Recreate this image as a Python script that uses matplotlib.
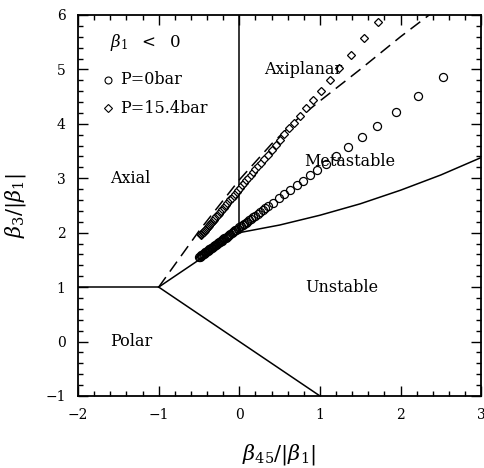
import numpy as np
import matplotlib
matplotlib.use("Agg")
import matplotlib.pyplot as plt
from matplotlib.ticker import MultipleLocator

plt.rcParams['font.family'] = ['DejaVu Serif']
plt.rcParams['mathtext.fontset'] = 'dejavuserif'

# phase boundaries
axial_polar_x = [-2, -1]
axial_polar_y = [1, 1]
polar_unstable_x = [-1, 1]
polar_unstable_y = [1, -1]
axial_meta_x = [-1, 0]
axial_meta_y = [1, 2]
axial_axiplanar_x = [0, 0]
axial_axiplanar_y = [2, 6]
meta_unstable_x = [0, 0.5, 1.0, 1.5, 2.0, 2.5, 3.0]
meta_unstable_y = [2.0, 2.14, 2.32, 2.53, 2.78, 3.06, 3.38]
dashed_x = [-1, -0.5, 0, 0.4, 0.7, 1.0, 1.5, 2.0, 2.4]
dashed_y = [1, 2.03, 2.97, 3.63, 4.06, 4.42, 5.0, 5.6, 6.05]

# P = 0 bar
p0_x = [-0.50, -0.49, -0.48, -0.47, -0.46, -0.45, -0.44, -0.43, -0.42, -0.41,
        -0.40, -0.39, -0.38, -0.37, -0.36, -0.35, -0.34, -0.33, -0.32, -0.31,
        -0.30, -0.29, -0.28, -0.27, -0.26, -0.25, -0.24, -0.23, -0.22, -0.21,
        -0.20, -0.185, -0.17, -0.155, -0.14, -0.125, -0.11, -0.095, -0.08,
        -0.065, -0.05, -0.035, -0.02, 0.0, 0.02, 0.04, 0.06, 0.08, 0.10, 0.125,
        0.15, 0.175, 0.20, 0.23, 0.26, 0.29, 0.32, 0.36, 0.42, 0.49, 0.56,
        0.63, 0.71, 0.79, 0.88, 0.97, 1.07, 1.20, 1.35, 1.52, 1.71, 1.94,
        2.22, 2.53]
p0_y = [1.550, 1.561, 1.572, 1.583, 1.594, 1.605, 1.615, 1.626, 1.637, 1.648,
        1.659, 1.670, 1.681, 1.692, 1.703, 1.714, 1.724, 1.735, 1.746, 1.757,
        1.768, 1.779, 1.790, 1.801, 1.812, 1.823, 1.833, 1.844, 1.855, 1.866,
        1.877, 1.893, 1.910, 1.926, 1.942, 1.959, 1.975, 1.991, 2.008,
        2.024, 2.041, 2.057, 2.073, 2.095, 2.117, 2.139, 2.160, 2.182, 2.204,
        2.231, 2.259, 2.286, 2.313, 2.346, 2.378, 2.411, 2.444, 2.487, 2.553,
        2.629, 2.705, 2.782, 2.869, 2.956, 3.054, 3.152, 3.261, 3.403, 3.567,
        3.752, 3.959, 4.210, 4.515, 4.853]

# P = 15.4 bar
p15_x = [-0.48, -0.47, -0.46, -0.45, -0.44, -0.43, -0.42, -0.41, -0.40, -0.39,
         -0.38, -0.37, -0.36, -0.35, -0.34, -0.33, -0.32, -0.31, -0.30, -0.285,
         -0.27, -0.255, -0.24, -0.225, -0.21, -0.195, -0.18, -0.165, -0.15,
         -0.13, -0.11, -0.09, -0.07, -0.05, -0.03, -0.01, 0.01, 0.035, 0.06,
         0.085, 0.11, 0.14, 0.17, 0.20, 0.23, 0.27, 0.31, 0.35, 0.40, 0.45,
         0.50, 0.56, 0.62, 0.68, 0.75, 0.83, 0.91, 1.01, 1.12, 1.24, 1.38,
         1.55, 1.72]
p15_y = [1.950, 1.968, 1.985, 2.003, 2.021, 2.039, 2.057, 2.075, 2.093, 2.110,
         2.128, 2.146, 2.164, 2.182, 2.200, 2.218, 2.235, 2.253, 2.271, 2.298,
         2.325, 2.352, 2.378, 2.405, 2.432, 2.459, 2.486, 2.512, 2.539,
         2.575, 2.611, 2.646, 2.682, 2.718, 2.753, 2.789, 2.825, 2.870, 2.914,
         2.959, 3.003, 3.057, 3.111, 3.164, 3.218, 3.289, 3.361, 3.432, 3.521,
         3.611, 3.700, 3.807, 3.914, 4.021, 4.147, 4.289, 4.432, 4.611, 4.807,
         5.022, 5.271, 5.575, 5.879]

regions = ["Axial", "Polar", "Axiplanar", "Metastable", "Unstable"]
region_x = [-1.6, -1.6, 0.31, 0.8, 0.82]
region_y = [3.0, 0.0, 5.0, 3.3, 1.0]

fig = plt.figure(figsize=(4.85, 4.68), dpi=100)
ax = fig.add_axes([0.161, 0.154, 0.831, 0.814])

lw = 1.1
ax.plot(axial_polar_x, axial_polar_y, 'k-', lw=lw)
ax.plot(polar_unstable_x, polar_unstable_y, 'k-', lw=lw)
ax.plot(axial_meta_x, axial_meta_y, 'k-', lw=lw)
ax.plot(axial_axiplanar_x, axial_axiplanar_y, 'k-', lw=lw)
ax.plot(meta_unstable_x, meta_unstable_y, 'k-', lw=lw)
ax.plot(dashed_x, dashed_y, 'k-', lw=lw, dashes=(8, 4.5))

ax.plot(p0_x, p0_y, 'o', ls='none', ms=5.8, mfc='none', mec='k', mew=0.9)
ax.plot(p15_x, p15_y, 'D', ls='none', ms=4.2, mfc='white', mec='k', mew=0.9)

for name, rx, ry in zip(regions, region_x, region_y):
    ax.text(rx, ry, name, fontsize=11.5, va='center', ha='left')

# legend block
ax.text(-1.6, 5.5, r'$\beta_1\ \ <\ \ 0$', fontsize=12, va='center', ha='left')
ax.plot([-1.63], [4.81], 'o', ms=5, mfc='none', mec='k', mew=0.8)
ax.text(-1.48, 4.81, 'P=0bar', fontsize=11.5, va='center', ha='left')
ax.plot([-1.63], [4.29], 'D', ms=3.8, mfc='none', mec='k', mew=0.8)
ax.text(-1.48, 4.29, 'P=15.4bar', fontsize=11.5, va='center', ha='left')

ax.set_xlim(-2, 3)
ax.set_ylim(-1, 6)
ax.xaxis.set_major_locator(MultipleLocator(1))
ax.xaxis.set_minor_locator(MultipleLocator(0.2))
ax.yaxis.set_major_locator(MultipleLocator(1))
ax.yaxis.set_minor_locator(MultipleLocator(0.2))
ax.tick_params(which='both', direction='in', top=True, right=True,
               width=1.0, labelsize=10)
ax.tick_params(which='major', length=7, pad=9)
ax.tick_params(which='minor', length=3.5)
for s in ax.spines.values():
    s.set_linewidth(1.3)

ax.set_xlabel(r'$\beta_{45}/|\beta_1|$', fontsize=15, labelpad=14)
ax.set_ylabel(r'$\beta_3/|\beta_1|$', fontsize=15, labelpad=12)

fig.savefig("out.png", dpi=100)
